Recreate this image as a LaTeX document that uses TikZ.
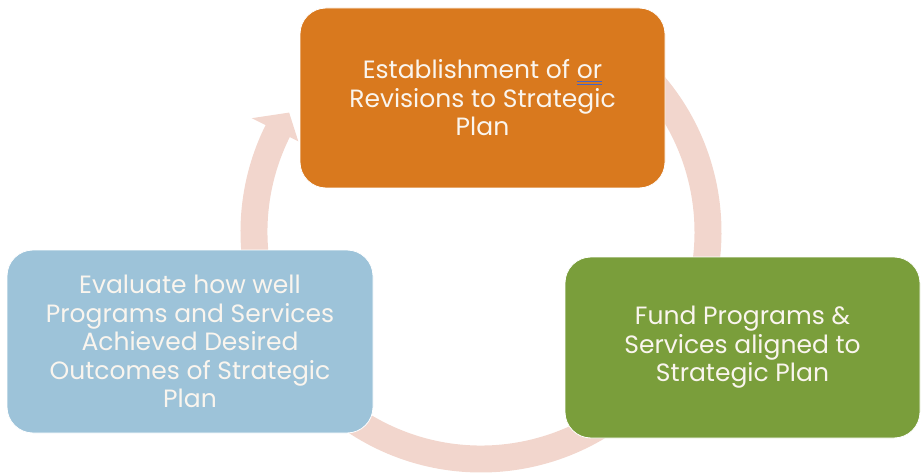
\documentclass[tikz,border=0pt]{standalone}
\usepackage{fontspec}
\setmainfont{Poppins}
\usetikzlibrary{calc}
\definecolor{orangeC}{RGB}{217,121,30}
\definecolor{greenC}{RGB}{122,158,59}
\definecolor{blueC}{RGB}{157,195,217}
\definecolor{arcC}{RGB}{242,214,205}
\definecolor{txtC}{RGB}{250,245,238}
\definecolor{ulblue}{RGB}{70,100,200}
\newcommand\dblul[1]{\setbox0\hbox{#1}\rlap{\textcolor{ulblue}{\rule[-3.5pt]{\wd0}{1pt}}}\rlap{\textcolor{ulblue}{\rule[-6pt]{\wd0}{1pt}}}\box0}
\tikzset{
  stagebox/.style={draw=white, line width=0.8pt, rounded corners=26pt, text=txtC,
    align=center, inner sep=0pt, font=\fontsize{25}{28.5}\selectfont},
}
\begin{document}
\begin{tikzpicture}[x=1pt,y=1pt]
\useasboundingbox (0,0) rectangle (922,475);
\coordinate (c) at (481,243);
% circular arrow band
\fill[arcC] ($(c)+(153:213.5pt)$) arc[start angle=153, end angle=410, radius=213.5pt]
  -- ($(c)+(50:240.5pt)$) arc[start angle=410, end angle=153, radius=240.5pt] -- cycle;
% arrow head
\fill[arcC] ($(c)+(153.6:204pt)$) -- ($(c)+(153.6:256pt)$) -- ($(c)+(148.1:226pt)$) -- cycle;
% boxes
\node[stagebox, fill=orangeC, minimum width=365pt, minimum height=180pt] (plan) at (482.5,377)
  {Establishment of \dblul{or}\\Revisions to Strategic\\Plan};
\node[stagebox, fill=greenC, minimum width=355pt, minimum height=181pt] (fund) at (742.5,127.5)
  {Fund Programs \&\\Services aligned to\\Strategic Plan};
\node[stagebox, fill=blueC, minimum width=366pt, minimum height=183pt] (eval) at (190,133.5)
  {Evaluate how well\\Programs and Services\\Achieved Desired\\Outcomes of Strategic\\Plan};
\end{tikzpicture}
\end{document}
